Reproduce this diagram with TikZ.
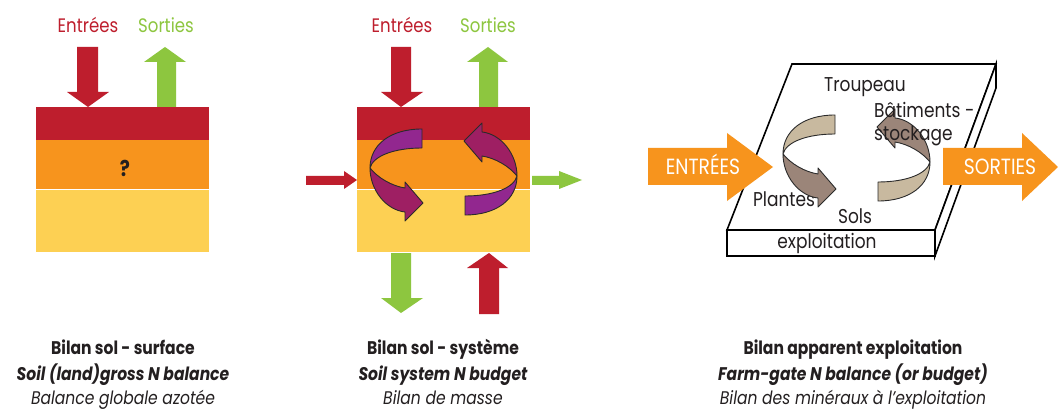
\documentclass[tikz,border=0pt]{standalone}
\usepackage{fontspec}
\setmainfont{Poppins}[FakeStretch=0.85]
\definecolor{cred}{HTML}{BE1E2D}
\definecolor{corange}{HTML}{F7941D}
\definecolor{cyellow}{HTML}{FDD053}
\definecolor{cgreen}{HTML}{8DC63F}
\definecolor{cpurple}{HTML}{92278F}
\definecolor{cmagenta}{HTML}{9E1F63}
\definecolor{ctanlight}{HTML}{C8B99F}
\definecolor{ctandark}{HTML}{9B8579}
\definecolor{ctext}{HTML}{231F20}
\definecolor{coutline}{HTML}{2B2B2B}
\tikzset{
  outline/.style={draw=coutline, line width=0.9pt, line join=round},
  pics/twist/.style 2 args={code={
    \filldraw[fill=#1, outline] (26,-46) .. controls (-6,-46) and (-26,-30) .. (-26,-7)
       .. controls (-23,-19) and (-2,-27) .. (26,-27) -- cycle;
    \filldraw[fill=#2, outline] (-26,-7) .. controls (-18,3) and (-4,11) .. (9,13)
       -- (9,7) -- (27,28) -- (9,46) -- (9,37) .. controls (-10,35) and (-26,15) .. (-26,-7) -- cycle;
  }},
  lbl/.style={font=\fontsize{19.5}{22}\selectfont, anchor=base, inner sep=0pt},
  farm/.style={font=\fontsize{20}{24}\selectfont, text=ctext, inner sep=0pt},
  bigtxt/.style={font=\fontsize{22}{26}\selectfont, text=white, anchor=base, inner sep=0pt},
  captxt/.style={text=ctext, anchor=base, inner sep=0pt},
  slab/.style={draw=black, fill=white, line width=1.6pt, line join=miter},
}
\newcommand{\capsize}{\fontsize{18.3}{21}\selectfont}
\begin{document}
\begin{tikzpicture}[x=1pt, y=-1pt]
\useasboundingbox (0,0) rectangle (1058,417);
\fill[white] (0,0) rectangle (1058,417);

% ---------------- Panel 1 ----------------
\fill[cred] (36,107) rectangle (209,140);
\fill[corange] (36,140) rectangle (209,189);
\fill[cyellow] (36,189) rectangle (209,252);
\draw[white, line width=0.8pt] (36,189) -- (209,189);
\node[font=\bfseries\fontsize{22}{26}\selectfont, text=ctext, anchor=base, inner sep=0pt] (q) at (125,177) {?};
\node[lbl, text=cred] (e1) at (88,33) {Entrées};
\node[lbl, text=cgreen] (s1) at (166,33) {Sorties};
\fill[cred] (77,47) -- (98,47) -- (98,92) -- (109,92) -- (88,107) -- (67,92) -- (77,92) -- cycle;
\fill[cgreen] (157,107) -- (176,107) -- (176,62) -- (186,62) -- (165,47) -- (144,62) -- (157,62) -- cycle;

% ---------------- Panel 2 ----------------
\fill[cred] (357,107) rectangle (530,140);
\fill[corange] (357,140) rectangle (530,189);
\fill[cyellow] (357,189) rectangle (530,252);
\draw[white, line width=0.8pt] (357,189) -- (530,189);
\node[lbl, text=cred] (e2) at (402,33) {Entrées};
\node[lbl, text=cgreen] (s2) at (488,33) {Sorties};
\fill[cred] (391,47) -- (411,47) -- (411,92) -- (423,92) -- (401,107) -- (381,92) -- (391,92) -- cycle;
\fill[cgreen] (479,107) -- (498,107) -- (498,62) -- (508,62) -- (488,47) -- (467,62) -- (479,62) -- cycle;
\fill[cred] (306,176) -- (344,176) -- (344,171) -- (357,180) -- (344,189) -- (344,185) -- (306,185) -- cycle;
\fill[cgreen] (532,176) -- (559,176) -- (559,171) -- (582,180) -- (559,189) -- (559,185) -- (532,185) -- cycle;
\fill[cgreen] (391,253) -- (411,253) -- (411,298) -- (423,298) -- (401,313) -- (381,298) -- (391,298) -- cycle;
\fill[cred] (479,314) -- (499,314) -- (499,268) -- (508,268) -- (489,253) -- (467,268) -- (479,268) -- cycle;
\pic at (396,175) {twist={cpurple}{cmagenta}};
\pic[rotate=180] at (491,169) {twist={cpurple}{cmagenta}};

% ---------------- Panel 3 ----------------
\draw[slab] (792,64) -- (996,64) -- (935,230) -- (727,230) -- cycle;
\draw[slab] (727,230) rectangle (935,256);
\draw[slab] (935,230) -- (996,64) -- (996,88) -- (935,256) -- cycle;
\node[farm, anchor=base] (tr) at (865,92) {Troupeau};
\node[farm, anchor=base] (pl) at (784,206) {Plantes};
\node[farm, anchor=base] (so) at (855,223) {Sols};
\node[farm, anchor=base] (ex) at (827,248) {exploitation};
\pic at (809,161) {twist={ctanlight}{ctandark}};
\pic[rotate=180] at (904,155) {twist={ctanlight}{ctandark}};
\node[farm, anchor=base west] (ba) at (874,118) {Bâtiments -};
\node[farm, anchor=base west] (st) at (874,141) {stockage};
\fill[corange] (648,148) -- (727,148) -- (727,133) -- (773,167) -- (727,201) -- (727,185) -- (648,185) -- cycle;
\fill[corange] (943,148) -- (1022,148) -- (1022,133) -- (1058,167) -- (1022,201) -- (1022,185) -- (943,185) -- cycle;
\node[bigtxt] (en) at (703,175) {ENTRÉES};
\node[bigtxt] (sr) at (1000,175) {SORTIES};

% ---------------- Captions ----------------
\node[captxt, font=\bfseries\capsize] (c11) at (123,354) {Bilan sol - surface};
\node[captxt, font=\bfseries\itshape\capsize] (c12) at (123,380) {Soil (land)gross N balance};
\node[captxt, font=\itshape\capsize] (c13) at (123,404) {Balance globale azotée};
\node[captxt, font=\bfseries\capsize] (c21) at (443,354) {Bilan sol - système};
\node[captxt, font=\bfseries\itshape\capsize] (c22) at (443,380) {Soil system N budget};
\node[captxt, font=\itshape\capsize] (c23) at (443,404) {Bilan de masse};
\node[captxt, font=\bfseries\capsize] (c31) at (853,354) {Bilan apparent exploitation};
\node[captxt, font=\bfseries\itshape\capsize] (c32) at (853,380) {Farm-gate N balance (or budget)};
\node[captxt, font=\itshape\capsize] (c33) at (853,404) {Bilan des minéraux à l’exploitation};
\end{tikzpicture}
\end{document}
